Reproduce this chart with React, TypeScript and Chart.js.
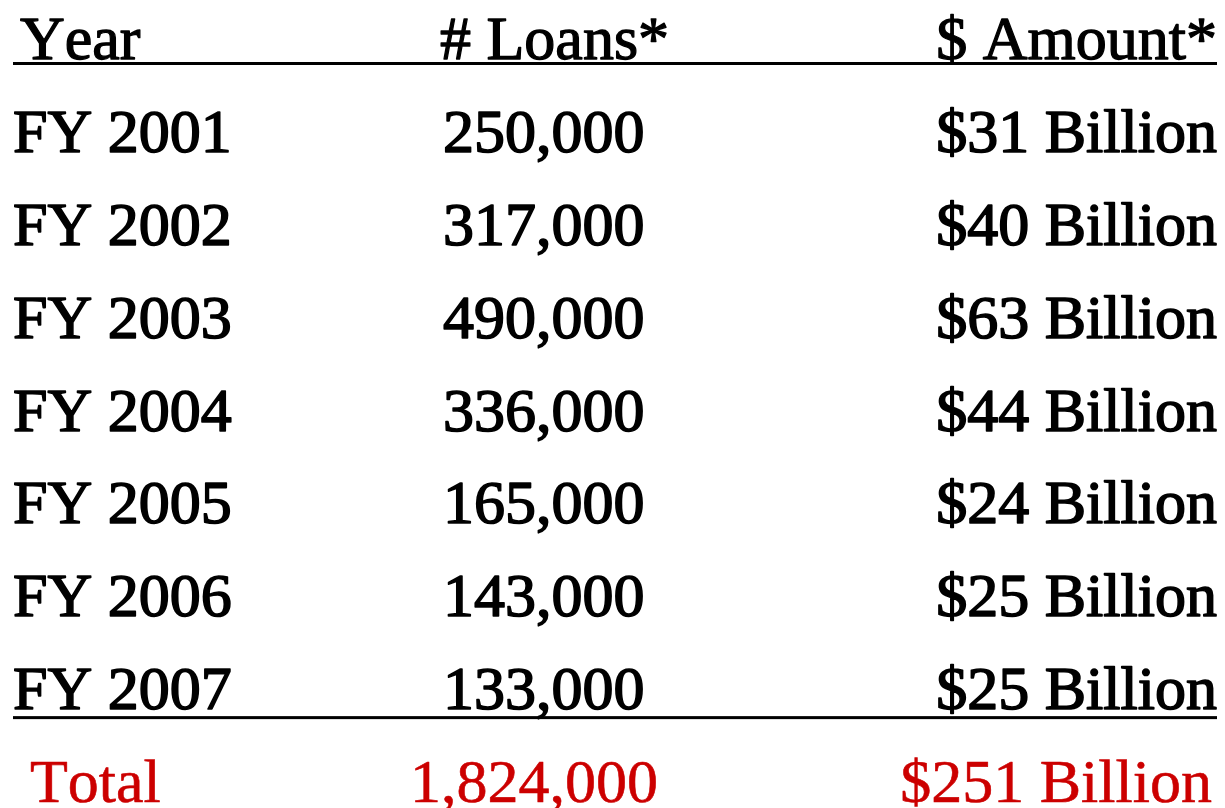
import React, { useEffect, useRef } from "react";
import { Chart, registerables } from "chart.js";

Chart.register(...registerables);

const headers = ["Year", "# Loans*", "$ Amount*"];
const years = ["FY 2001", "FY 2002", "FY 2003", "FY 2004", "FY 2005", "FY 2006", "FY 2007"];
const loans = ["250,000", "317,000", "490,000", "336,000", "165,000", "143,000", "133,000"];
const amounts = ["$31 Billion", "$40 Billion", "$63 Billion", "$44 Billion", "$24 Billion", "$25 Billion", "$25 Billion"];
const totalRow = ["Total", "1,824,000", "$251 Billion"];

const rowKeys = ["header", ...years, "total"];

const FONT = '"Liberation Serif", "Times New Roman", serif';
const RED = "#CC0000";

const tablePlugin = {
  id: "tableText",
  afterDraw(chart: any) {
    const ctx = chart.ctx;
    const y = chart.scales.y;
    const baseOf = (i: number) => y.getPixelForValue(i) + 21;
    ctx.save();
    ctx.textBaseline = "alphabetic";
    try {
      (ctx as any).fontKerning = "none";
    } catch (e) {}
    ctx.lineJoin = "round";

    const put = (t: string, x: number, b: number, align: CanvasTextAlign, color: string, lw: number) => {
      ctx.textAlign = align;
      ctx.fillStyle = color;
      ctx.strokeStyle = color;
      ctx.lineWidth = lw;
      ctx.fillText(t, x, b);
      if (lw > 0) ctx.strokeText(t, x, b);
    };

    ctx.font = `62px ${FONT}`;

    // header
    const hb = baseOf(0);
    put(headers[0], 20, hb, "left", "#000", 1.3);
    put(headers[1], 440, hb, "left", "#000", 1.3);
    put(headers[2], 1217, hb, "right", "#000", 1.3);

    // rows
    years.forEach((yr, k) => {
      const b = baseOf(k + 1);
      put(yr, 13, b, "left", "#000", 1.6);
      put(loans[k], 443, b, "left", "#000", 1.6);
      put(amounts[k], 1217, b, "right", "#000", 1.6);
    });

    // total
    const tb = baseOf(rowKeys.length - 1);
    put(totalRow[0], 30, tb, "left", RED, 0.6);
    put(totalRow[1], 410, tb, "left", RED, 0.6);
    put(totalRow[2], 1212, tb, "right", RED, 0.6);

    // rules
    ctx.fillStyle = "#000";
    ctx.fillRect(13, hb + 3, 1204, 3);
    ctx.fillRect(13, baseOf(years.length) + 7, 1204, 3);
    ctx.restore();
  },
};

export default function App() {
  const ref = useRef<HTMLCanvasElement | null>(null);
  useEffect(() => {
    if (!ref.current) return;
    const chart = new Chart(ref.current, {
      type: "scatter",
      data: {
        labels: rowKeys,
        datasets: [
          {
            data: rowKeys.map((_, i) => ({ x: 0, y: i })),
            pointRadius: 0,
            showLine: false,
          },
        ],
      },
      options: {
        animation: false,
        responsive: false,
        events: [],
        layout: { padding: { top: 38, bottom: 27, left: 0, right: 0 } },
        plugins: { legend: { display: false }, tooltip: { enabled: false } },
        scales: {
          x: { type: "linear", display: false, min: 0, max: 1 },
          y: {
            type: "linear",
            display: false,
            reverse: true,
            min: 0,
            max: rowKeys.length - 1,
          },
        },
      },
      plugins: [tablePlugin],
    });
    return () => chart.destroy();
  }, []);
  return (
    <div style={{ position: "absolute", left: 0, top: 0, width: 1225, height: 808, background: "#fff" }}>
      <canvas ref={ref} width={1225} height={808} />
    </div>
  );
}
